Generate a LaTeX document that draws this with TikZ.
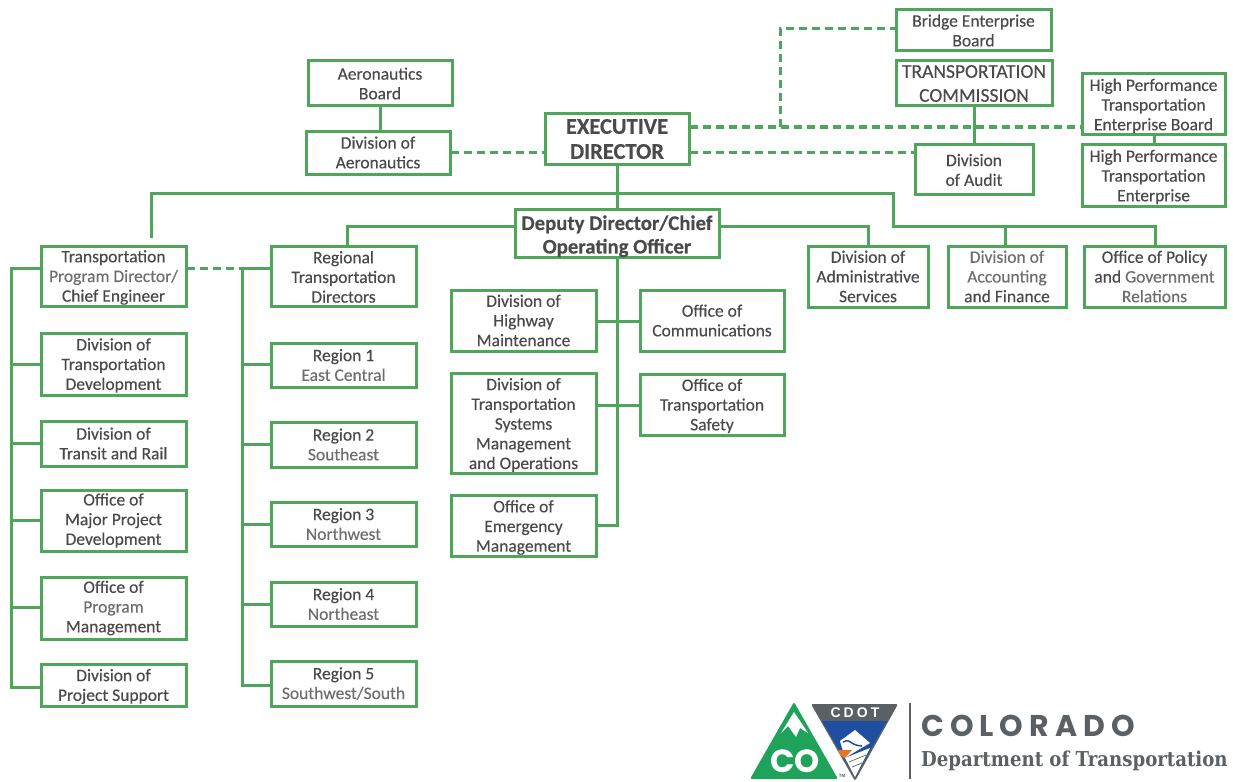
\documentclass[tikz,border=0pt]{standalone}
\usepackage{fontspec}
\setmainfont{Carlito}[FakeBold=0.3]
\newfontfamily\logoserif{DejaVu Serif}
\newfontfamily\logosans{Liberation Sans}
\newfontfamily\logoround{Poppins}
\usetikzlibrary{calc}
\definecolor{boxgreen}{HTML}{4EA65A}
\definecolor{txt}{HTML}{4A4A4A}
\definecolor{txtl}{HTML}{6E6E6E}
\definecolor{logogray}{HTML}{5B6064}
\definecolor{logogreen}{HTML}{1FA35A}
\definecolor{logoblue}{HTML}{1F4FA0}
\definecolor{logoorange}{HTML}{E4762A}
\tikzset{
  box/.style={draw=boxgreen,line width=3pt,fill=white,inner sep=0pt,align=center,text=txt,
    font=\fontsize{17.5}{19.7}\selectfont},
  bigbox/.style={box,font=\fontsize{19.5}{24}\selectfont},
  execbox/.style={box,font=\fontsize{22.5}{25}\selectfont\bfseries},
  deputybox/.style={box,font=\fontsize{20.8}{23.5}\selectfont\bfseries},
  link/.style={draw=boxgreen,line width=3pt},
  dash link/.style={link,dash pattern=on 8pt off 5pt},
}
\newcommand{\bx}[6][box]{%
  \path let \n1={#5-#3-2},\n2={#6-#4-2} in
  node[#1,minimum width=\n1*1pt,minimum height=\n2*1pt,anchor=center] (#2) at ({(#3+#5)/2},{(#4+#6)/2})}
\newcommand{\lt}[1]{\textcolor{txtl}{#1}}
\newcommand{\dn}[1]{\rule{0pt}{#1pt}}
\begin{document}
\begin{tikzpicture}[x=1pt,y=-1pt]
\useasboundingbox (0,0) rectangle (1233,781);
% connectors
\draw[link] (617,165) -- (617,211);
\draw[link] (151,238) -- (151,193) -- (893,193) -- (893,226) -- (1155,226) -- (1155,245);
\draw[link] (1005,226) -- (1005,245);
\draw[link] (514,226) -- (347,226) -- (347,245);
\draw[link] (720,226) -- (868,226) -- (868,245);
\draw[link] (617,256) -- (617,525) -- (597,525);
\draw[link] (597,321) -- (639,321);
\draw[link] (597,405) -- (639,405);
\draw[link] (380,107) -- (380,130);
\draw[link] (974,107) -- (974,143);
\draw[link] (1154,135) -- (1154,143);
\draw[link] (40,268) -- (11,268) -- (11,687) -- (40,687);
\foreach \y in {364,443,520,607} \draw[link] (11,\y) -- (40,\y);
\draw[link] (270,268) -- (242,268) -- (242,685) -- (270,685);
\foreach \y in {364,444,524,604} \draw[link] (242,\y) -- (270,\y);
\draw[dash link] (187,268) -- (242,268);
\draw[dash link] (690,127) -- (1081,127);
\draw[dash link] (690,152) -- (914,152);
\draw[dash link] (451,152) -- (544,152);
\draw[dash link] (780,127) -- (780,29) -- (895,29);
% boxes
\bx{aero}{307}{60}{453}{107} {Aeronautics\\Board};
\bx{divaero}{305}{130}{451}{175} {Division of\\Aeronautics};
\bx[execbox]{exec}{544}{113}{690}{165} {EXECUTIVE\\DIRECTOR};
\bx{bridge}{895}{9}{1052}{52} {Bridge Enterprise\\Board};
\bx[bigbox]{tc}{895}{60}{1053}{107} {TRANSPORTATION\\COMMISSION};
\bx{hpteb}{1081}{73}{1226}{135} {\dn{16}High Performance\\Transportation\\Enterprise Board};
\bx{hpte}{1081}{143}{1226}{207} {\dn{16}High Performance\\Transportation\\Enterprise};
\bx{audit}{914}{143}{1034}{195} {\dn{14}Division\\of Audit};
\bx[deputybox]{deputy}{514}{211}{720}{256} {\dn{20}Deputy Director/Chief\\Operating Officer};
\bx{admin}{807}{245}{929}{308} {Division of\\Administrative\\Services};
\bx{acct}{947}{245}{1067}{308} {\lt{Division of}\\\lt{Accounting}\\and Finance};
\bx{policy}{1083}{245}{1226}{308} {Office of Policy\\and \lt{Government}\\\lt{Relations}};
\bx{tpd}{40}{245}{187}{307} {\dn{15}Transportation\\\lt{Program Director/}\\Chief Engineer};
\bx{dtd}{40}{332}{187}{396} {\dn{15}Division of\\Transportation\\Development};
\bx{transit}{40}{420}{187}{467} {Division of\\Transit and Rail};
\bx{major}{40}{489}{187}{552} {Office of\\Major Project\\Development};
\bx{program}{40}{576}{187}{640} {Office of\\\lt{Program}\\Management};
\bx{support}{40}{663}{187}{707} {\dn{15}Division of\\Project Support};
\bx{regional}{270}{245}{417}{307} {\dn{14}Regional\\Transportation\\Directors};
\bx{r1}{270}{342}{417}{388} {Region 1\\\lt{East Central}};
\bx{r2}{270}{421}{417}{468} {Region 2\\\lt{Southeast}};
\bx{r3}{270}{501}{417}{547} {Region 3\\\lt{Northwest}};
\bx{r4}{270}{581}{417}{627} {Region 4\\\lt{Northeast}};
\bx{r5}{270}{660}{417}{707} {Region 5\\\lt{Southwest/South}};
\bx{highway}{450}{289}{597}{352} {Division of\\Highway\\Maintenance};
\bx{comm}{639}{289}{785}{352} {Office of\\Communications};
\bx{tsmo}{450}{372}{597}{474} {\dn{16}Division of\\Transportation\\Systems\\Management\\and Operations};
\bx{safety}{639}{373}{785}{436} {\dn{15}Office of\\Transportation\\Safety};
\bx{emerg}{450}{494}{597}{557} {\dn{16}Office of\\Emergency\\Management};
% logo
\fill[logogreen,rounded corners=2pt] (794,702) -- (750,779) -- (838,779) -- cycle;
\fill[white] (794,712) -- (781,733) -- (788,726) -- (796,737) -- (800,728) -- (808,733) -- cycle;
\node[inner sep=0pt,text=white,font=\logoround\bfseries\fontsize{32}{32}\selectfont] (co) at (795,761) {CO};
\fill[logogray,rounded corners=1.5pt] (811,704) -- (898,704) -- (855,781) -- cycle;
\fill[logoblue] (822,721) -- (887,721) -- (855,777) -- cycle;
\fill[white] (840,741) -- (855,730) -- (870,743) -- (858,750) -- (845,758) -- cycle;
\draw[logoblue,line width=1.5pt] (843,742) .. controls (852,738) and (848,745) .. (862,746);
\fill[logoorange] (837,750) -- (852,750) -- (845,758) -- (842,757) -- cycle;
\fill[white] (845,758) -- (870,748) -- (855,777) -- cycle;
\draw[logogray,line width=0.7pt] (849,762) -- (866,755);
\draw[logogray,line width=0.7pt] (852,767) -- (862,763);
\node[inner sep=0pt,text=white,font=\logosans\bfseries\fontsize{14}{14}\selectfont\addfontfeature{LetterSpace=22}] (cdot) at (855,713) {CDOT};
\node[inner sep=0pt,text=logogray,font=\logosans\bfseries\fontsize{4.5}{5}\selectfont] (tm) at (842,776) {TM};
\draw[logogray,line width=1.2pt] (910,703) -- (910,779);
\node[anchor=west,inner sep=0pt,text=logogray,font=\logoround\bfseries\fontsize{30}{30}\selectfont\addfontfeature{LetterSpace=20}] (colorado) at (921,726) {COLORADO};
\node[anchor=west,inner sep=0pt,text=logogray,font=\logoserif\bfseries\fontsize{20.5}{22}\selectfont,xscale=0.885] (dept) at (921,761) {Department of Transportation};
\end{tikzpicture}
\end{document}
